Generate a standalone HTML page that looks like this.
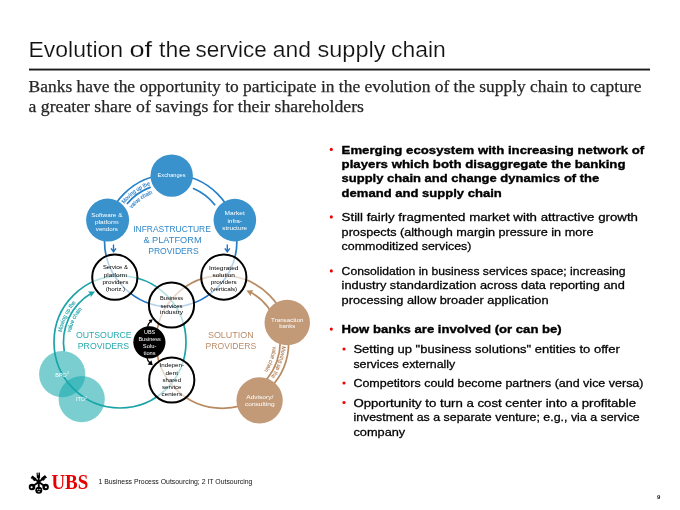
<!DOCTYPE html>
<html><head><meta charset="utf-8"><title>Evolution of the service and supply chain</title>
<style>
html,body{margin:0;padding:0;background:#fff;}
body{width:680px;height:510px;position:relative;overflow:hidden;font-family:"Liberation Sans", sans-serif;}
svg text{white-space:pre;}
</style></head><body>
<svg width="680" height="510" viewBox="0 0 680 510" style="position:absolute;left:0;top:0;will-change:transform">
<defs>
<linearGradient id="gb" gradientUnits="userSpaceOnUse" x1="0" y1="176" x2="0" y2="308"><stop offset="0" stop-color="#2580c8"/><stop offset="0.5" stop-color="#2580c8"/><stop offset="0.9" stop-color="#1c70c4"/></linearGradient>
</defs>
<text x="28.50" y="57.4" font-family='"Liberation Sans", sans-serif' font-size="22.2" fill="#111" textLength="94.60" lengthAdjust="spacingAndGlyphs" stroke="#fff" stroke-width="0.18">Evolution</text>
<text x="129.40" y="57.4" font-family='"Liberation Sans", sans-serif' font-size="22.2" fill="#111" textLength="22.60" lengthAdjust="spacingAndGlyphs" stroke="#fff" stroke-width="0.18">of</text>
<text x="159.00" y="57.4" font-family='"Liberation Sans", sans-serif' font-size="22.2" fill="#111" textLength="32.00" lengthAdjust="spacingAndGlyphs" stroke="#fff" stroke-width="0.18">the</text>
<text x="195.50" y="57.4" font-family='"Liberation Sans", sans-serif' font-size="22.2" fill="#111" textLength="71.20" lengthAdjust="spacingAndGlyphs" stroke="#fff" stroke-width="0.18">service</text>
<text x="272.80" y="57.4" font-family='"Liberation Sans", sans-serif' font-size="22.2" fill="#111" textLength="38.20" lengthAdjust="spacingAndGlyphs" stroke="#fff" stroke-width="0.18">and</text>
<text x="317.50" y="57.4" font-family='"Liberation Sans", sans-serif' font-size="22.2" fill="#111" textLength="68.00" lengthAdjust="spacingAndGlyphs" stroke="#fff" stroke-width="0.18">supply</text>
<text x="391.00" y="57.4" font-family='"Liberation Sans", sans-serif' font-size="22.2" fill="#111" textLength="54.70" lengthAdjust="spacingAndGlyphs" stroke="#fff" stroke-width="0.18">chain</text>
<rect x="29" y="68.6" width="621" height="1.9" fill="#1a1a1a"/>
<text x="28.6" y="92.4" font-family='"Liberation Serif", serif' font-size="16.9" fill="#262626" stroke="#262626" stroke-width="0.25" textLength="612.8" lengthAdjust="spacingAndGlyphs">Banks have the opportunity to participate in the evolution of the supply chain to capture</text>
<text x="28.6" y="112.4" font-family='"Liberation Serif", serif' font-size="16.9" fill="#262626" stroke="#262626" stroke-width="0.25" textLength="335.4" lengthAdjust="spacingAndGlyphs">a greater share of savings for their shareholders</text>
<g fill="none" stroke-width="1.7">
<circle cx="170.7" cy="240.7" r="66.2" stroke="url(#gb)"/>
<circle cx="120" cy="342" r="66" stroke="#1ca3a8"/>
<circle cx="222.4" cy="342" r="66.3" stroke="#b98a60"/>
<path d="M126.88,203.93A57.2,57.2 0 0 1 150.67,187.12" stroke="#2580c8"/>
<path d="M192.93,188.32A56.9,56.9 0 0 1 215.17,205.20" stroke="#2580c8"/>
<path d="M64.27,351.33A56.5,56.5 0 0 1 91.32,293.32" stroke="#1ca3a8"/>
<path d="M253.88,390.48A57.8,57.8 0 0 0 277.67,325.10" stroke="#b98a60"/>
<path d="M277.10,325.28A57.2,57.2 0 0 0 250.57,292.22" stroke="#b98a60"/>
</g>
<path d="M95.06,291.53L90.74,297.23L90.35,293.85L87.90,291.49Z" fill="#1ca3a8"/>
<path d="M246.40,290.52L253.56,290.33L251.16,292.74L250.85,296.13Z" fill="#b98a60"/>
<path d="M113.5,244.4V251.4M111.0,248.4L113.5,251.8L116.0,248.4" stroke="#1c70c4" stroke-width="1.35" fill="none" stroke-linejoin="miter"/>
<path d="M227.3,244.4V251.4M224.8,248.4L227.3,251.8L229.8,248.4" stroke="#1c70c4" stroke-width="1.35" fill="none" stroke-linejoin="miter"/>
<path id="cb1" d="M124.29,203.78A59.3,59.3 0 0 1 160.40,182.30" fill="none"/>
<text font-family='"Liberation Sans", sans-serif' font-size="5.7" fill="#2277c4" stroke="#2277c4" stroke-width="0.12"><textPath href="#cb1" textLength="32.5" lengthAdjust="spacingAndGlyphs">Moving up the</textPath></text>
<path id="cb2" d="M131.81,208.64A50.4,50.4 0 0 1 161.95,191.07" fill="none"/>
<text font-family='"Liberation Sans", sans-serif' font-size="5.7" fill="#2277c4" stroke="#2277c4" stroke-width="0.12"><textPath href="#cb2" textLength="26" lengthAdjust="spacingAndGlyphs">value chain</textPath></text>
<path id="ct1" d="M61.81,332.26A59.0,59.0 0 0 1 90.50,290.90" fill="none"/>
<text font-family='"Liberation Sans", sans-serif' font-size="5.7" fill="#1ca3a8" stroke="#1ca3a8" stroke-width="0.12"><textPath href="#ct1" textLength="33" lengthAdjust="spacingAndGlyphs">Moving up the</textPath></text>
<path id="ct2" d="M70.64,332.85A50.2,50.2 0 0 1 94.90,298.53" fill="none"/>
<text font-family='"Liberation Sans", sans-serif' font-size="5.7" fill="#1ca3a8" stroke="#1ca3a8" stroke-width="0.12"><textPath href="#ct2" textLength="26.5" lengthAdjust="spacingAndGlyphs">value chain</textPath></text>
<path id="cr1" d="M281.85,346.16A59.6,59.6 0 0 1 260.71,387.66" fill="none"/>
<text font-family='"Liberation Sans", sans-serif' font-size="5.7" fill="#b07e52" stroke="#b07e52" stroke-width="0.12"><textPath href="#cr1" textLength="33" lengthAdjust="spacingAndGlyphs">Moving up the</textPath></text>
<path id="cr2" d="M272.81,346.41A50.6,50.6 0 0 1 254.93,380.76" fill="none"/>
<text font-family='"Liberation Sans", sans-serif' font-size="5.7" fill="#b07e52" stroke="#b07e52" stroke-width="0.12"><textPath href="#cr2" textLength="26" lengthAdjust="spacingAndGlyphs">value chain</textPath></text>
<circle cx="171.7" cy="175.6" r="21.2" fill="#3a92cc"/>
<circle cx="107.6" cy="220.1" r="21.5" fill="#3a92cc"/>
<circle cx="234.85" cy="220.1" r="21.3" fill="#3a92cc"/>
<circle cx="287.25" cy="322.6" r="22.75" fill="#c29a78"/>
<circle cx="259.6" cy="400.3" r="23.15" fill="#c29a78"/>
<circle cx="62.2" cy="374.2" r="23.1" fill="#17a9ad" fill-opacity="0.57"/>
<circle cx="81.7" cy="399.1" r="23.1" fill="#17a9ad" fill-opacity="0.57"/>
<circle cx="114.8" cy="277.2" r="22.6" fill="#fff" fill-opacity="0.68" stroke="#000" stroke-width="2"/>
<circle cx="223.8" cy="277.1" r="22.6" fill="#fff" fill-opacity="0.68" stroke="#000" stroke-width="2"/>
<circle cx="171.5" cy="305" r="22.6" fill="#fff" fill-opacity="0.68" stroke="#000" stroke-width="2"/>
<circle cx="171.75" cy="380" r="22.6" fill="#fff" fill-opacity="0.68" stroke="#000" stroke-width="2"/>
<circle cx="149.4" cy="342.3" r="16.1" fill="#000"/>
<path d="M147.4,328Q148,323.4 151,320.8" stroke="#000" stroke-width="1.2" fill="none"/><path d="M152.8,319.2L148.6,320L151.2,323.2Z" fill="#000"/>
<path d="M146.8,357Q147.4,361 150,363" stroke="#000" stroke-width="1.3" fill="none"/><path d="M152.8,365.2L147.6,364.4L151.4,360.2Z" fill="#000"/>
<text x="171.6" y="177" text-anchor="middle" font-family='"Liberation Sans", sans-serif' font-size="5.9" fill="#fff" textLength="28" lengthAdjust="spacingAndGlyphs">Exchanges</text>
<text x="106.8" y="216.7" text-anchor="middle" font-family='"Liberation Sans", sans-serif' font-size="5.9" fill="#fff" textLength="31.2" lengthAdjust="spacingAndGlyphs">Software &amp;</text>
<text x="106.8" y="224.1" text-anchor="middle" font-family='"Liberation Sans", sans-serif' font-size="5.9" fill="#fff" textLength="23.5" lengthAdjust="spacingAndGlyphs">platform</text>
<text x="106.8" y="231.4" text-anchor="middle" font-family='"Liberation Sans", sans-serif' font-size="5.9" fill="#fff" textLength="22" lengthAdjust="spacingAndGlyphs">vendors</text>
<text x="234.7" y="215.4" text-anchor="middle" font-family='"Liberation Sans", sans-serif' font-size="5.9" fill="#fff" textLength="20.2" lengthAdjust="spacingAndGlyphs">Market</text>
<text x="234.7" y="222.7" text-anchor="middle" font-family='"Liberation Sans", sans-serif' font-size="5.9" fill="#fff" textLength="14.6" lengthAdjust="spacingAndGlyphs">infra-</text>
<text x="234.7" y="229.9" text-anchor="middle" font-family='"Liberation Sans", sans-serif' font-size="5.9" fill="#fff" textLength="24.8" lengthAdjust="spacingAndGlyphs">structure</text>
<text x="115.4" y="269.4" text-anchor="middle" font-family='"Liberation Sans", sans-serif' font-size="5.9" fill="#000" textLength="25" lengthAdjust="spacingAndGlyphs">Service &amp;</text>
<text x="115.4" y="276.7" text-anchor="middle" font-family='"Liberation Sans", sans-serif' font-size="5.9" fill="#000" textLength="23.5" lengthAdjust="spacingAndGlyphs">platform</text>
<text x="115.4" y="283.7" text-anchor="middle" font-family='"Liberation Sans", sans-serif' font-size="5.9" fill="#000" textLength="26" lengthAdjust="spacingAndGlyphs">providers</text>
<text x="115.4" y="290.6" text-anchor="middle" font-family='"Liberation Sans", sans-serif' font-size="5.9" fill="#000" textLength="19.5" lengthAdjust="spacingAndGlyphs">(horiz.)</text>
<text x="223.7" y="269.6" text-anchor="middle" font-family='"Liberation Sans", sans-serif' font-size="5.9" fill="#000" textLength="29.6" lengthAdjust="spacingAndGlyphs">Integrated</text>
<text x="223.7" y="276.7" text-anchor="middle" font-family='"Liberation Sans", sans-serif' font-size="5.9" fill="#000" textLength="22.5" lengthAdjust="spacingAndGlyphs">solution</text>
<text x="223.7" y="283.8" text-anchor="middle" font-family='"Liberation Sans", sans-serif' font-size="5.9" fill="#000" textLength="26" lengthAdjust="spacingAndGlyphs">providers</text>
<text x="223.7" y="290.6" text-anchor="middle" font-family='"Liberation Sans", sans-serif' font-size="5.9" fill="#000" textLength="27" lengthAdjust="spacingAndGlyphs">(verticals)</text>
<text x="171.6" y="300" text-anchor="middle" font-family='"Liberation Sans", sans-serif' font-size="5.9" fill="#000" textLength="23" lengthAdjust="spacingAndGlyphs">Business</text>
<text x="171.6" y="307.5" text-anchor="middle" font-family='"Liberation Sans", sans-serif' font-size="5.9" fill="#000" textLength="22" lengthAdjust="spacingAndGlyphs">services</text>
<text x="171.6" y="314.3" text-anchor="middle" font-family='"Liberation Sans", sans-serif' font-size="5.9" fill="#000" textLength="23" lengthAdjust="spacingAndGlyphs">industry</text>
<text x="149.6" y="333.8" text-anchor="middle" font-family='"Liberation Sans", sans-serif' font-size="5.9" fill="#fff" textLength="11.2" lengthAdjust="spacingAndGlyphs">UBS</text>
<text x="149.6" y="341.2" text-anchor="middle" font-family='"Liberation Sans", sans-serif' font-size="5.9" fill="#fff" textLength="22.4" lengthAdjust="spacingAndGlyphs">Business</text>
<text x="149.6" y="348.3" text-anchor="middle" font-family='"Liberation Sans", sans-serif' font-size="5.9" fill="#fff" textLength="13.6" lengthAdjust="spacingAndGlyphs">Solu-</text>
<text x="149.6" y="355.3" text-anchor="middle" font-family='"Liberation Sans", sans-serif' font-size="5.9" fill="#fff" textLength="12" lengthAdjust="spacingAndGlyphs">tions</text>
<text x="171.8" y="367.1" text-anchor="middle" font-family='"Liberation Sans", sans-serif' font-size="5.9" fill="#000" textLength="24.5" lengthAdjust="spacingAndGlyphs">Indepen-</text>
<text x="171.8" y="374.5" text-anchor="middle" font-family='"Liberation Sans", sans-serif' font-size="5.9" fill="#000" textLength="12.5" lengthAdjust="spacingAndGlyphs">dent</text>
<text x="171.8" y="381.8" text-anchor="middle" font-family='"Liberation Sans", sans-serif' font-size="5.9" fill="#000" textLength="18.5" lengthAdjust="spacingAndGlyphs">shared</text>
<text x="171.8" y="389.1" text-anchor="middle" font-family='"Liberation Sans", sans-serif' font-size="5.9" fill="#000" textLength="19.5" lengthAdjust="spacingAndGlyphs">service</text>
<text x="171.8" y="396.2" text-anchor="middle" font-family='"Liberation Sans", sans-serif' font-size="5.9" fill="#000" textLength="20.5" lengthAdjust="spacingAndGlyphs">centers</text>
<text x="287.2" y="321.5" text-anchor="middle" font-family='"Liberation Sans", sans-serif' font-size="5.9" fill="#fff" textLength="32.2" lengthAdjust="spacingAndGlyphs">Transaction</text>
<text x="287.2" y="328.3" text-anchor="middle" font-family='"Liberation Sans", sans-serif' font-size="5.9" fill="#fff" textLength="16" lengthAdjust="spacingAndGlyphs">banks</text>
<text x="259.8" y="398.7" text-anchor="middle" font-family='"Liberation Sans", sans-serif' font-size="5.9" fill="#fff" textLength="27" lengthAdjust="spacingAndGlyphs">Advisory/</text>
<text x="259.8" y="405.9" text-anchor="middle" font-family='"Liberation Sans", sans-serif' font-size="5.9" fill="#fff" textLength="29.8" lengthAdjust="spacingAndGlyphs">consulting</text>
<text x="55.3" y="376.5" font-family='"Liberation Sans", sans-serif' font-size="6.1" fill="#fff" textLength="11.4" lengthAdjust="spacingAndGlyphs">BPO</text><text x="66.9" y="374.2" font-family='"Liberation Sans", sans-serif' font-size="3.6" fill="#fff">1</text>
<text x="75.9" y="401.4" font-family='"Liberation Sans", sans-serif' font-size="6.1" fill="#fff" textLength="9" lengthAdjust="spacingAndGlyphs">ITO</text><text x="85.1" y="399.1" font-family='"Liberation Sans", sans-serif' font-size="3.6" fill="#fff">2</text>
<text x="133.2" y="231.6" font-family='"Liberation Sans", sans-serif' font-size="9.3" fill="#2f86c8" textLength="77.7" lengthAdjust="spacingAndGlyphs">INFRASTRUCTURE</text>
<text x="143.4" y="243" font-family='"Liberation Sans", sans-serif' font-size="9.3" fill="#2f86c8" textLength="58.2" lengthAdjust="spacingAndGlyphs">&amp; PLATFORM</text>
<text x="148.2" y="254" font-family='"Liberation Sans", sans-serif' font-size="9.3" fill="#2f86c8" textLength="50.6" lengthAdjust="spacingAndGlyphs">PROVIDERS</text>
<text x="75.9" y="337.8" font-family='"Liberation Sans", sans-serif' font-size="9.3" fill="#27a9ad" textLength="55.7" lengthAdjust="spacingAndGlyphs">OUTSOURCE</text>
<text x="77.8" y="348.8" font-family='"Liberation Sans", sans-serif' font-size="9.3" fill="#27a9ad" textLength="51.4" lengthAdjust="spacingAndGlyphs">PROVIDERS</text>
<text x="207.9" y="337.9" font-family='"Liberation Sans", sans-serif' font-size="9.3" fill="#b98c69" textLength="45.9" lengthAdjust="spacingAndGlyphs">SOLUTION</text>
<text x="205.6" y="348.9" font-family='"Liberation Sans", sans-serif' font-size="9.3" fill="#b98c69" textLength="50.6" lengthAdjust="spacingAndGlyphs">PROVIDERS</text>
<circle cx="331.3" cy="149.4" r="1.55" fill="#f00000"/>
<text x="341.6" y="153.60" font-family='"Liberation Sans", sans-serif' font-size="11.5" font-weight="bold" stroke="#000" stroke-width="0.36" fill="#000" textLength="302.65" lengthAdjust="spacingAndGlyphs">Emerging ecosystem with increasing network of</text>
<text x="341.6" y="167.90" font-family='"Liberation Sans", sans-serif' font-size="11.5" font-weight="bold" stroke="#000" stroke-width="0.36" fill="#000" textLength="283.90" lengthAdjust="spacingAndGlyphs">players which both disaggregate the banking</text>
<text x="341.6" y="182.30" font-family='"Liberation Sans", sans-serif' font-size="11.5" font-weight="bold" stroke="#000" stroke-width="0.36" fill="#000" textLength="257.65" lengthAdjust="spacingAndGlyphs">supply chain and change dynamics of the</text>
<text x="341.6" y="196.60" font-family='"Liberation Sans", sans-serif' font-size="11.5" font-weight="bold" stroke="#000" stroke-width="0.36" fill="#000" textLength="160.15" lengthAdjust="spacingAndGlyphs">demand and supply chain</text>
<circle cx="331.3" cy="216.9" r="1.55" fill="#f00000"/>
<text x="341.6" y="221.10" font-family='"Liberation Sans", sans-serif' font-size="11.5" stroke="#000" stroke-width="0.28" fill="#000" textLength="296.40" lengthAdjust="spacingAndGlyphs">Still fairly fragmented market with attractive growth</text>
<text x="341.6" y="235.60" font-family='"Liberation Sans", sans-serif' font-size="11.5" stroke="#000" stroke-width="0.28" fill="#000" textLength="251.90" lengthAdjust="spacingAndGlyphs">prospects (although margin pressure in more</text>
<text x="341.6" y="249.90" font-family='"Liberation Sans", sans-serif' font-size="11.5" stroke="#000" stroke-width="0.28" fill="#000" textLength="129.90" lengthAdjust="spacingAndGlyphs">commoditized services)</text>
<circle cx="331.3" cy="270.90000000000003" r="1.55" fill="#f00000"/>
<text x="341.6" y="275.10" font-family='"Liberation Sans", sans-serif' font-size="11.5" stroke="#000" stroke-width="0.28" fill="#000" textLength="283.90" lengthAdjust="spacingAndGlyphs">Consolidation in business services space; increasing</text>
<text x="341.6" y="289.35" font-family='"Liberation Sans", sans-serif' font-size="11.5" stroke="#000" stroke-width="0.28" fill="#000" textLength="283.15" lengthAdjust="spacingAndGlyphs">industry standardization across data reporting and</text>
<text x="341.6" y="303.60" font-family='"Liberation Sans", sans-serif' font-size="11.5" stroke="#000" stroke-width="0.28" fill="#000" textLength="206.90" lengthAdjust="spacingAndGlyphs">processing allow broader application</text>
<circle cx="331.3" cy="329.1" r="1.55" fill="#f00000"/>
<text x="341.6" y="333.35" font-family='"Liberation Sans", sans-serif' font-size="11.5" font-weight="bold" stroke="#000" stroke-width="0.36" fill="#000" textLength="220.15" lengthAdjust="spacingAndGlyphs">How banks are involved (or can be)</text>
<circle cx="344.0" cy="349.0" r="1.55" fill="#f00000"/>
<text x="353.4" y="353.10" font-family='"Liberation Sans", sans-serif' font-size="11.5" stroke="#000" stroke-width="0.28" fill="#000" textLength="266.35" lengthAdjust="spacingAndGlyphs">Setting up &quot;business solutions&quot; entities to offer</text>
<text x="353.4" y="367.60" font-family='"Liberation Sans", sans-serif' font-size="11.5" stroke="#000" stroke-width="0.28" fill="#000" textLength="101.85" lengthAdjust="spacingAndGlyphs">services externally</text>
<circle cx="344.0" cy="383.0" r="1.55" fill="#f00000"/>
<text x="353.4" y="387.10" font-family='"Liberation Sans", sans-serif' font-size="11.5" stroke="#000" stroke-width="0.28" fill="#000" textLength="290.10" lengthAdjust="spacingAndGlyphs">Competitors could become partners (and vice versa)</text>
<circle cx="344.0" cy="402.5" r="1.55" fill="#f00000"/>
<text x="353.4" y="406.60" font-family='"Liberation Sans", sans-serif' font-size="11.5" stroke="#000" stroke-width="0.28" fill="#000" textLength="282.60" lengthAdjust="spacingAndGlyphs">Opportunity to turn a cost center into a profitable</text>
<text x="353.4" y="421.10" font-family='"Liberation Sans", sans-serif' font-size="11.5" stroke="#000" stroke-width="0.28" fill="#000" textLength="286.35" lengthAdjust="spacingAndGlyphs">investment as a separate venture; e.g., via a service</text>
<text x="353.4" y="435.60" font-family='"Liberation Sans", sans-serif' font-size="11.5" stroke="#000" stroke-width="0.28" fill="#000" textLength="51.85" lengthAdjust="spacingAndGlyphs">company</text>
<g stroke="#000" fill="none"><path d="M38.6,473.4L38.8,488M32.6,477.6L45.4,486.8M45,477.2L32.2,486.8" stroke-width="1.9"/><path d="M38.2,472.6L38.5,478M31.4,476.9L35.6,479.8M46,476.4L42,479.6" stroke-width="3.3"/><path d="M38.1,472L38.2,475.2M29.8,478.6L33,479.4M47.6,478L44.6,479" stroke="#fff" stroke-width="0.7"/></g><circle cx="32" cy="487" r="3.25" fill="#000"/><circle cx="45.6" cy="487" r="3.25" fill="#000"/><circle cx="38.8" cy="490.2" r="3.5" fill="#000"/><circle cx="31.6" cy="487.2" r="1.05" fill="#fff"/><circle cx="45.9" cy="487.2" r="1.05" fill="#fff"/><circle cx="37.7" cy="489.6" r="0.7" fill="#fff"/><circle cx="39.9" cy="489.6" r="0.7" fill="#fff"/><rect x="37.8" y="491.3" width="2" height="0.8" fill="#fff"/>
<text x="51.4" y="489.4" font-family='"Liberation Serif", serif' font-size="21.2" font-weight="bold" fill="#e60000" textLength="36.8" lengthAdjust="spacingAndGlyphs">UBS</text>
<text x="98.4" y="483.8" font-family='"Liberation Sans", sans-serif' font-size="6.4" fill="#111" textLength="154" lengthAdjust="spacingAndGlyphs">1 Business Process Outsourcing; 2 IT Outsourcing</text>
<text x="656.9" y="498.7" font-family='"Liberation Sans", sans-serif' font-size="6" font-weight="bold" fill="#111">9</text>
</svg>
</body></html>
